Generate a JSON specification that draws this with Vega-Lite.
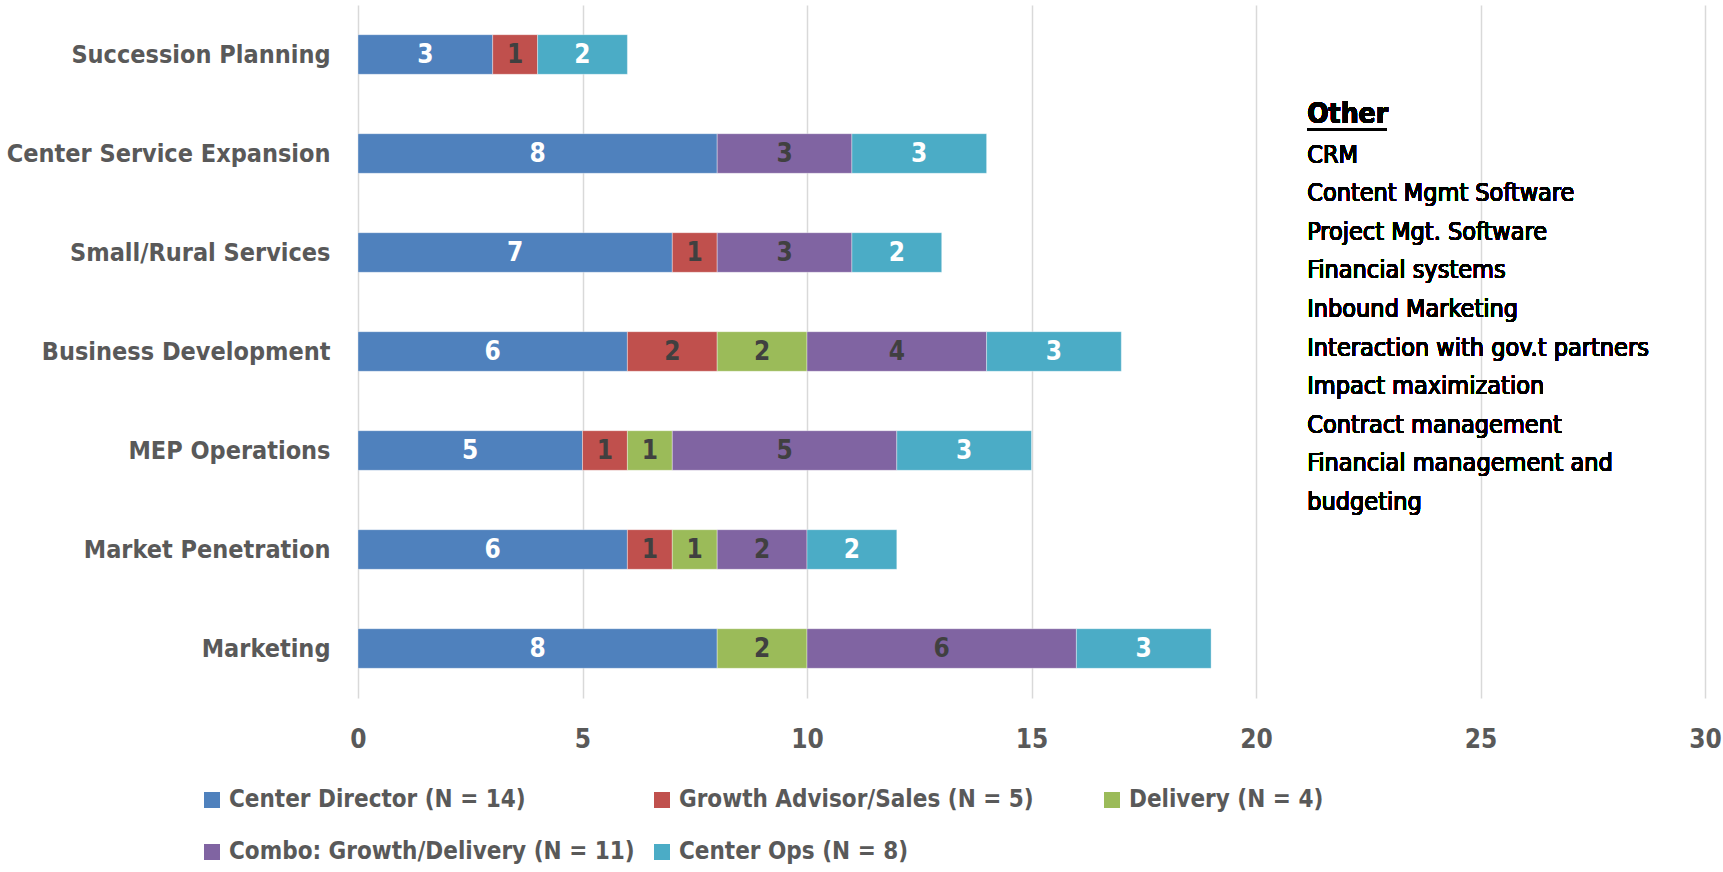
{
  "$schema": "https://vega.github.io/schema/vega-lite/v6.json",
  "width": 1347,
  "height": 693,
  "autosize": {"type": "none"},
  "padding": {"left": 358, "top": 5, "right": 18, "bottom": 174},
  "background": "white",
  "config": {"view": {"stroke": null}, "font": "'Liberation Sans Narrow', 'Arial Narrow', 'DejaVu Sans Condensed', 'Liberation Sans', sans-serif"},
  "data": {
    "values": [
      {"cat": "Succession Planning", "role": "Center Director (N = 14)", "v": 3, "o": 1},
      {"cat": "Succession Planning", "role": "Growth Advisor/Sales (N = 5)", "v": 1, "o": 2},
      {"cat": "Succession Planning", "role": "Center Ops (N = 8)", "v": 2, "o": 5},
      {"cat": "Center Service Expansion", "role": "Center Director (N = 14)", "v": 8, "o": 1},
      {"cat": "Center Service Expansion", "role": "Combo: Growth/Delivery (N = 11)", "v": 3, "o": 4},
      {"cat": "Center Service Expansion", "role": "Center Ops (N = 8)", "v": 3, "o": 5},
      {"cat": "Small/Rural Services", "role": "Center Director (N = 14)", "v": 7, "o": 1},
      {"cat": "Small/Rural Services", "role": "Growth Advisor/Sales (N = 5)", "v": 1, "o": 2},
      {"cat": "Small/Rural Services", "role": "Combo: Growth/Delivery (N = 11)", "v": 3, "o": 4},
      {"cat": "Small/Rural Services", "role": "Center Ops (N = 8)", "v": 2, "o": 5},
      {"cat": "Business Development", "role": "Center Director (N = 14)", "v": 6, "o": 1},
      {"cat": "Business Development", "role": "Growth Advisor/Sales (N = 5)", "v": 2, "o": 2},
      {"cat": "Business Development", "role": "Delivery (N = 4)", "v": 2, "o": 3},
      {"cat": "Business Development", "role": "Combo: Growth/Delivery (N = 11)", "v": 4, "o": 4},
      {"cat": "Business Development", "role": "Center Ops (N = 8)", "v": 3, "o": 5},
      {"cat": "MEP Operations", "role": "Center Director (N = 14)", "v": 5, "o": 1},
      {"cat": "MEP Operations", "role": "Growth Advisor/Sales (N = 5)", "v": 1, "o": 2},
      {"cat": "MEP Operations", "role": "Delivery (N = 4)", "v": 1, "o": 3},
      {"cat": "MEP Operations", "role": "Combo: Growth/Delivery (N = 11)", "v": 5, "o": 4},
      {"cat": "MEP Operations", "role": "Center Ops (N = 8)", "v": 3, "o": 5},
      {"cat": "Market Penetration", "role": "Center Director (N = 14)", "v": 6, "o": 1},
      {"cat": "Market Penetration", "role": "Growth Advisor/Sales (N = 5)", "v": 1, "o": 2},
      {"cat": "Market Penetration", "role": "Delivery (N = 4)", "v": 1, "o": 3},
      {"cat": "Market Penetration", "role": "Combo: Growth/Delivery (N = 11)", "v": 2, "o": 4},
      {"cat": "Market Penetration", "role": "Center Ops (N = 8)", "v": 2, "o": 5},
      {"cat": "Marketing", "role": "Center Director (N = 14)", "v": 8, "o": 1},
      {"cat": "Marketing", "role": "Delivery (N = 4)", "v": 2, "o": 3},
      {"cat": "Marketing", "role": "Combo: Growth/Delivery (N = 11)", "v": 6, "o": 4},
      {"cat": "Marketing", "role": "Center Ops (N = 8)", "v": 3, "o": 5}
    ]
  },
  "layer": [
    {
      "mark": {"type": "bar", "stroke": "#ffffff", "strokeWidth": 0.6, "strokeOpacity": 0.6},
      "encoding": {
        "y": {
          "field": "cat", "type": "nominal",
          "sort": ["Succession Planning", "Center Service Expansion", "Small/Rural Services", "Business Development", "MEP Operations", "Market Penetration", "Marketing"],
          "scale": {"paddingInner": 0.6, "paddingOuter": 0.3},
          "axis": {"title": null, "domain": false, "ticks": false, "grid": false, "labelPadding": 28, "labelFontSize": 25, "labelFontWeight": "bold", "labelColor": "#595959", "labelLimit": 400}
        },
        "x": {
          "field": "v", "type": "quantitative", "stack": "zero",
          "scale": {"domain": [0, 30], "nice": false},
          "axis": {"title": null, "domain": false, "ticks": false, "grid": true, "gridColor": "#D9D9D9", "gridWidth": 1.5, "values": [0, 5, 10, 15, 20, 25, 30], "labelPadding": 28, "labelFontSize": 26, "labelFontWeight": "bold", "labelColor": "#595959", "labelFlush": false}
        },
        "color": {
          "field": "role", "type": "nominal",
          "scale": {
            "domain": ["Center Director (N = 14)", "Growth Advisor/Sales (N = 5)", "Delivery (N = 4)", "Combo: Growth/Delivery (N = 11)", "Center Ops (N = 8)"],
            "range": ["#4F81BD", "#C0504D", "#9BBB59", "#8064A2", "#4BACC6"]
          },
          "legend": {
            "title": null, "orient": "none", "legendX": -158, "legendY": 783,
            "direction": "horizontal", "columns": 3, "gridAlign": "all",
            "symbolType": "square", "symbolSize": 256, "symbolStrokeWidth": 0,
            "labelFontSize": 24, "labelFontWeight": "bold", "labelColor": "#595959",
            "labelOffset": 5, "rowPadding": 28, "columnPadding": 15, "labelLimit": 500
          }
        },
        "order": {"field": "o", "type": "quantitative"}
      }
    },
    {
      "transform": [
        {"stack": "v", "groupby": ["cat"], "sort": [{"field": "o"}], "as": ["x0", "x1"]},
        {"calculate": "(datum.x0 + datum.x1) / 2", "as": "mid"}
      ],
      "mark": {"type": "text", "fontSize": 26, "fontWeight": "bold", "align": "center", "baseline": "middle"},
      "encoding": {
        "y": {"field": "cat", "type": "nominal", "sort": ["Succession Planning", "Center Service Expansion", "Small/Rural Services", "Business Development", "MEP Operations", "Market Penetration", "Marketing"]},
        "x": {"field": "mid", "type": "quantitative"},
        "text": {"field": "v"},
        "color": {
          "condition": {"test": "datum.o === 1 || datum.o === 5", "value": "#ffffff"},
          "value": "#404040"
        }
      }
    },
    {
      "mark": {"type": "text", "text": "Other", "fontSize": 28, "fontWeight": "bold", "align": "left", "baseline": "middle", "color": "#000000", "yOffset": 60},
      "encoding": {
        "x": {"datum": 21.14, "type": "quantitative"},
        "y": {"datum": "Succession Planning", "type": "nominal"}
      }
    },
    {
      "mark": {"type": "rule", "color": "#000000", "strokeWidth": 2.5, "yOffset": 75},
      "encoding": {
        "x": {"datum": 21.14, "type": "quantitative"},
        "x2": {"datum": 22.9},
        "y": {"datum": "Succession Planning", "type": "nominal"}
      }
    },
    {
      "mark": {
        "type": "text",
        "text": ["CRM", "Content Mgmt Software", "Project Mgt. Software", "Financial systems", "Inbound Marketing", "Interaction with gov.t partners", "Impact maximization", "Contract management", "Financial management and", "budgeting"],
        "fontSize": 25, "align": "left", "baseline": "top", "color": "#000000", "lineHeight": 38.6, "yOffset": 88
      },
      "encoding": {
        "x": {"datum": 21.14, "type": "quantitative"},
        "y": {"datum": "Succession Planning", "type": "nominal"}
      }
    }
  ]
}
